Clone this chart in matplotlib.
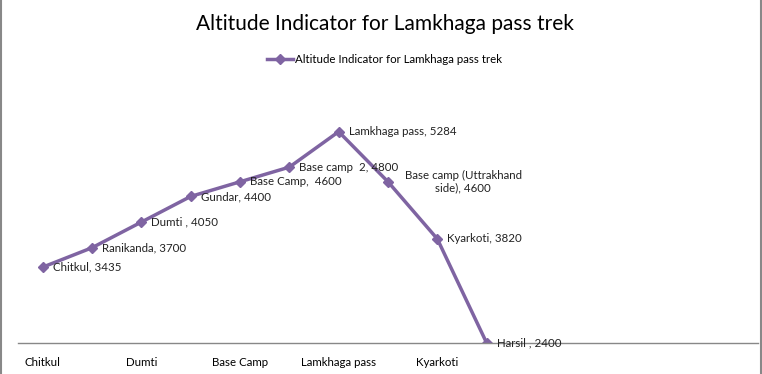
import matplotlib.pyplot as plt

places = ["Chitkul", "Ranikanda", "Dumti ", "Gundar", "Base Camp, ", "Base camp  2",
          "Lamkhaga pass", "Base camp (Uttrakhand\nside)", "Kyarkoti", "Harsil "]
altitude = [3435, 3700, 4050, 4400, 4600, 4800, 5284, 4600, 3820, 2400]
tick_pos = [0, 2, 4, 6, 8]
tick_labels = ["Chitkul", "Dumti", "Base Camp", "Lamkhaga pass", "Kyarkoti"]
n_slots = 15

plt.rcParams['font.family'] = ['Lato', 'DejaVu Sans']
purple = '#7f64a2'

fig = plt.figure(figsize=(7.62, 3.74), dpi=100)
ax = fig.add_axes([18 / 762, 31 / 374, 740 / 762, 266 / 374])

x = list(range(len(altitude)))
line, = ax.plot(x, altitude, color=purple, lw=2.5, marker='D', ms=5,
                label='Altitude Indicator for Lamkhaga pass trek')

for i, (p, v) in enumerate(zip(places, altitude)):
    if '\n' in p:
        ha, dx = 'center', 75
    else:
        ha, dx = 'left', 10
    sep = ' ' if p.endswith(', ') else ', '
    ax.annotate(f"{p}{sep}{v}", (i, v), xytext=(dx, 0), textcoords='offset pixels',
                ha=ha, va='center', fontsize=8.3, color='#222222',
                multialignment='center')

ax.set_xlim(-0.5, n_slots - 0.5)
ax.set_ylim(2400, 6030)
ax.set_xticks(tick_pos)
ax.set_xticklabels(tick_labels, fontsize=8.3)
ax.tick_params(axis='x', length=0, pad=10)
ax.set_yticks([])
for s in ['top', 'left', 'right']:
    ax.spines[s].set_visible(False)
ax.spines['bottom'].set_color('#888888')
ax.spines['bottom'].set_linewidth(1)

fig.text(0.505, 0.935, 'Altitude Indicator for Lamkhaga pass trek', ha='center',
         va='center', fontsize=15)
fig.legend(handles=[line], loc='center', bbox_to_anchor=(0.505, 0.84), frameon=False,
           fontsize=8.3, handlelength=2.2, handletextpad=0.2)

for xe in (0.001, 0.999):
    fig.add_artist(plt.Line2D([xe, xe], [0, 1], transform=fig.transFigure,
                              color='#888888', lw=1.5))

fig.savefig('out.png', dpi=100)
